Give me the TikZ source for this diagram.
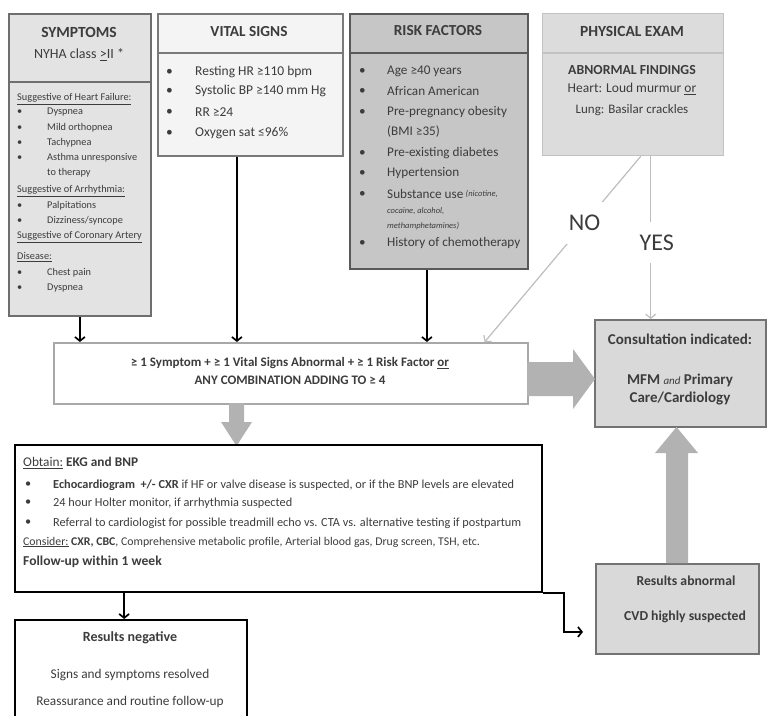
\documentclass[tikz,border=0pt]{standalone}
\usepackage{fontspec}
\setmainfont{Carlito}
\usetikzlibrary{arrows.meta}

\definecolor{ink}{HTML}{3C3C3C}
\definecolor{symfill}{HTML}{E3E3E3}
\definecolor{symline}{HTML}{6E6E6E}
\definecolor{vitfill}{HTML}{F4F4F4}
\definecolor{vitline}{HTML}{7A7A7A}
\definecolor{riskfill}{HTML}{C6C6C6}
\definecolor{riskline}{HTML}{595959}
\definecolor{physfill}{HTML}{DCDCDC}
\definecolor{physline}{HTML}{C2C2C2}
\definecolor{mainline}{HTML}{A8A8A8}
\definecolor{consfill}{HTML}{D9D9D9}
\definecolor{consline}{HTML}{737373}
\definecolor{paleline}{HTML}{BDBDBD}
\definecolor{fatgray}{HTML}{B2B2B2}

\tikzset{
  box/.style={anchor=north west, inner sep=0pt, line width=1.8pt},
  hdr/.style={font=\fontsize{15.3}{17}\selectfont\bfseries, text=ink, inner sep=0pt},
  txt/.style={font=\fontsize{13.5}{15}\selectfont, text=ink, inner sep=0pt},
  li/.style={txt, anchor=west},
  tiny/.style={font=\fontsize{10.3}{12}\selectfont, text=ink, inner sep=0pt, anchor=west},
  note/.style={font=\fontsize{12.3}{14}\selectfont, text=ink, inner sep=0pt, anchor=west},
  conn/.style={line width=1.7pt, ->},
  pale/.style={draw=paleline, line width=1.2pt, ->},
  yn/.style={fill=white, font=\fontsize{24}{26}\selectfont, text=ink, inner xsep=3pt, inner ysep=13pt}
}

\begin{document}
\begin{tikzpicture}[x=1pt, y=-1pt, >={Straight Barb[length=4pt,width=10pt]}]
\clip (0,0) rectangle (767,715);

%%%%%%%%%%%% Top row
\node[box, draw=symline, fill=symfill, minimum width=142, minimum height=302] (sym) at (8,13) {};
\node[box, draw=vitline, fill=vitfill, minimum width=185, minimum height=142] (vital) at (157,13) {};
\node[box, draw=riskline, fill=riskfill, minimum width=178, minimum height=255] (risk) at (349,13) {};
\node[box, draw=physline, fill=physfill, line width=1.4pt, minimum width=181, minimum height=142] (phys) at (542,13) {};

\draw[symline, line width=1.8pt] (sym.west |- 0,82) -- (sym.east |- 0,82);
\draw[vitline, line width=1.8pt] (vital.west |- 0,53) -- (vital.east |- 0,53);
\draw[riskline, line width=1.8pt] (risk.west |- 0,53) -- (risk.east |- 0,53);
\draw[physline, line width=1.4pt] (phys.west |- 0,53) -- (phys.east |- 0,53);

% symptoms
\node[hdr, font=\fontsize{15.5}{17}\selectfont\bfseries] (symttl) at (79,32) {SYMPTOMS};
\node[txt, font=\fontsize{14}{16}\selectfont] (nyha) at (79,55) {NYHA class \underline{>}II *};
\node[tiny] (hf) at (17,99) {\underline{Suggestive of Heart Failure:}};
\node[tiny] (arr) at (17,191) {\underline{Suggestive of Arrhythmia:}};
\node[tiny] (cad) at (17,237) {\underline{Suggestive of Coronary Artery}};
\node[tiny] (cadb) at (17,257) {\underline{Disease:}};
\node[tiny] (ther) at (47,173) {to therapy};
\foreach \y/\t in {112/Dyspnea, 128/Mild orthopnea, 143/Tachypnea, 158/Asthma unresponsive,
                   206/Palpitations, 221/{Dizziness/syncope}, 273/Chest pain, 288/Dyspnea} {
  \node[tiny] (symb-\y) at (17,\y) {\textbullet};
  \node[tiny] (symi-\y) at (47,\y) {\t};
}

% vital signs
\node[hdr] (vitttl) at (249,32) {VITAL SIGNS};
\foreach \y/\t in {72/Resting HR ≥110 bpm, 91/Systolic BP ≥140 mm Hg, 112/RR ≥24, 133/Oxygen sat ≤96\%} {
  \node[li] (vitb-\y) at (166,\y) {\textbullet};
  \node[li] (viti-\y) at (195,\y) {\t};
}

% risk factors
\node[hdr] (riskttl) at (438,31) {RISK FACTORS};
\foreach \y/\t in {71/Age ≥40 years, 91/African American, 112/Pre-pregnancy obesity, 153/Pre-existing diabetes,
                   173/Hypertension, 194/Substance use, 243/History of chemotherapy} {
  \node[li, font=\fontsize{13.2}{15}\selectfont] (riskb-\y) at (359,\y) {\textbullet};
  \node[li, font=\fontsize{13.2}{15}\selectfont] (riski-\y) at (387,\y) {\t};
}
\node[li, font=\fontsize{13.2}{15}\selectfont] (bmi) at (387,132) {(BMI ≥35)};
\node[li, font=\fontsize{8.5}{9}\selectfont\itshape] (subs1) at (riski-194.east) {~(nicotine,};
\node[li, font=\fontsize{8.5}{9}\selectfont\itshape] (subs2) at (387,211) {cocaine, alcohol,};
\node[li, font=\fontsize{8.5}{9}\selectfont\itshape] (subs3) at (387,226) {methamphetamines)};

% physical exam
\node[hdr, font=\fontsize{15.5}{17}\selectfont\bfseries] (physttl) at (632,31) {PHYSICAL EXAM};
\node[txt, font=\fontsize{13.8}{15}\selectfont\bfseries] (abf) at (632,70) {ABNORMAL FINDINGS};
\node[txt] (heart) at (632,89) {Heart: Loud murmur \underline{or}};
\node[txt, font=\fontsize{13}{15}\selectfont] (lung) at (632,110) {Lung: Basilar crackles};

%%%%%%%%%%%% Middle
\node[box, draw=mainline, fill=white, line width=1.6pt, minimum width=474, minimum height=61] (main) at (53,342) {};
\node[txt, font=\fontsize{13}{18}\selectfont\bfseries, align=center] (maintxt) at (290,371)
  {≥ 1 Symptom + ≥ 1 Vital Signs Abnormal + ≥ 1 Risk Factor \underline{or}\\ANY COMBINATION ADDING TO ≥ 4};

\node[box, draw=consline, fill=consfill, minimum width=171, minimum height=107] (cons) at (594,319) {};
\node[txt, font=\fontsize{15}{17}\selectfont\bfseries] (constt) at (680,339) {Consultation indicated:};
\node[txt, font=\fontsize{15}{18}\selectfont\bfseries, align=center] (consbd) at (680,390)
  {MFM {\mdseries\itshape\fontsize{11}{12}\selectfont and} Primary\\Care/Cardiology};

\draw[conn] (sym.south) -- (sym.south |- main.north);
\draw[conn] ([xshift=-13.5pt]vital.south) -- ([xshift=-13.5pt]vital.south |- main.north);
\draw[conn] ([xshift=-12pt]risk.south) -- ([xshift=-12pt]risk.south |- main.north);

\draw[pale] ([xshift=7.5pt]phys.south) -- node[yn, pos=.36] (nolbl) {NO} ([xshift=-44pt]main.north east);
\draw[pale] ([xshift=17.5pt]phys.south) -- node[yn, pos=.53, xshift=6pt] (yeslbl) {YES} ([xshift=17.5pt]phys.south |- cons.north);

% wide arrows
\fill[fatgray] (527,362) -- (573,362) -- (573,349) -- (595,379) -- (573,409) -- (573,396) -- (527,396) -- cycle;
\fill[fatgray] (229,403) -- (244,403) -- (244,422) -- (252,422) -- (236.5,446) -- (221,422) -- (229,422) -- cycle;

%%%%%%%%%%%% Bottom
\node[box, draw=black, line width=2.3pt, minimum width=527, minimum height=147] (obtain) at (14,444) {};
\node[txt, font=\fontsize{13.3}{15}\selectfont, anchor=west] (obt) at (23,463) {\underline{Obtain:} \textbf{EKG and BNP}};
\node[note] (ob1) at (25,485) {\textbullet};
\node[note] (ot1) at (53,485) {\textbf{Echocardiogram~~+/- CXR} if HF or valve disease is suspected, or if the BNP levels are elevated};
\node[note] (ob2) at (25,503) {\textbullet};
\node[note] (ot2) at (53,503) {24 hour Holter monitor, if arrhythmia suspected};
\node[note] (ob3) at (25,523) {\textbullet};
\node[note] (ot3) at (53,523) {Referral to cardiologist for possible treadmill echo vs. CTA vs. alternative testing if postpartum};
\node[note, font=\fontsize{11.8}{14}\selectfont] (cons2) at (23,542) {\underline{Consider:} \textbf{CXR, CBC}, Comprehensive metabolic profile, Arterial blood gas, Drug screen, TSH, etc.};
\node[txt, font=\fontsize{13.6}{15}\selectfont\bfseries, anchor=west] (fup) at (23,562) {Follow-up within 1 week};

\node[box, draw=consline, fill=consfill, minimum width=163, minimum height=90] (abn) at (595,563) {};
\node[txt, font=\fontsize{13.7}{15}\selectfont\bfseries] (abnt) at (686,581) {Results abnormal};
\node[txt, font=\fontsize{13.7}{15}\selectfont\bfseries] (cvd) at (685,617) {CVD highly suspected};

\fill[fatgray] (666,563) -- (688,563) -- (688,453) -- (698,453) -- (676.5,427) -- (655,453) -- (666,453) -- cycle;

\node[box, draw=black, line width=2.3pt, minimum width=232, minimum height=110] (neg) at (14,619) {};
\node[txt, font=\fontsize{14}{15}\selectfont\bfseries] (negt) at (130,638) {Results negative};
\node[txt, font=\fontsize{13.3}{15}\selectfont] (neg1) at (130,675) {Signs and symptoms resolved};
\node[txt, font=\fontsize{13.3}{15}\selectfont] (neg2) at (130,702) {Reassurance and routine follow-up};

\draw[conn] ([xshift=-7pt]neg.north |- obtain.south) -- ([xshift=-7pt]neg.north);
\draw[conn, shorten >=12pt] (obtain.south east) -- ++(21,0) |- ([yshift=-23pt]abn.west);
\end{tikzpicture}
\end{document}
